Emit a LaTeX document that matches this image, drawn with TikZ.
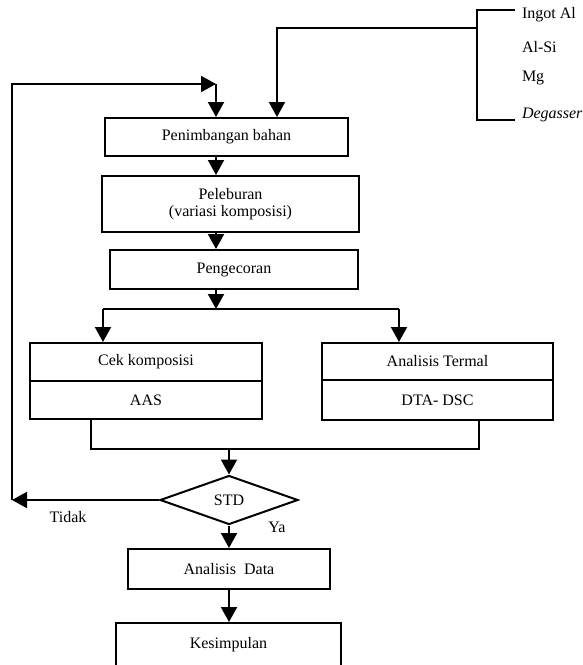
\documentclass[tikz,border=0pt]{standalone}
\usepackage{fontspec}
\setmainfont{Liberation Serif}
\usetikzlibrary{shapes.geometric,arrows.meta}
\begin{document}
\begin{tikzpicture}[x=1pt,y=-1pt,line width=2pt,
    box/.style={draw,rectangle,inner sep=0pt,align=center,font=\fontsize{16}{17}\selectfont},
    lbl/.style={inner sep=0pt,font=\fontsize{16}{17}\selectfont},
    arr/.style={-{Triangle[length=15pt,width=16pt]}}]
  \useasboundingbox (0,0) rectangle (583,665);
  % bahan
  \node[lbl,anchor=west] (ingot) at (521,15) {Ingot Al};
  \node[lbl,anchor=west] (alsi) at (521,47) {Al-Si};
  \node[lbl,anchor=west] (mg) at (521,78) {Mg};
  \node[lbl,anchor=west] (gas) at (521,115) {\textit{Degasser}};
  \coordinate (brT) at (515,10);
  \coordinate (brB) at (515,120);
  \coordinate (brM) at (477,28);
  \coordinate (feed) at (277,28);
  % proses
  \node[box,minimum width=243pt,minimum height=38pt] (weigh) at (226.5,137) {Penimbangan bahan};
  \node[box,minimum width=257pt,minimum height=56pt] (melt) at (230.5,204) {Peleburan\\(variasi komposisi)};
  \node[box,minimum width=248pt,minimum height=39pt] (cast) at (234,269.5) {Pengecoran};
  \node[box,minimum width=232pt,minimum height=38pt] (chkA) at (146,362) {Cek komposisi};
  \node[box,minimum width=232pt,minimum height=38pt] (chkB) at (146,400) {AAS};
  \node[box,minimum width=231pt,minimum height=37pt] (terA) at (437.5,361.5) {Analisis Termal};
  \node[box,minimum width=231pt,minimum height=40pt] (terB) at (437.5,400) {DTA- DSC};
  \node[draw,diamond,aspect=2.8,minimum width=138pt,minimum height=49pt,inner sep=0pt,
    font=\fontsize{16}{17}\selectfont] (std) at (229,500) {STD};
  \node[box,minimum width=202pt,minimum height=40pt] (anal) at (229,569) {Analisis\ \ Data};
  \node[box,minimum width=225pt,minimum height=44pt] (concl) at (228.5,645) {Kesimpulan};
  \node[lbl] (no) at (68,517) {Tidak};
  \node[lbl] (yes) at (277,527) {Ya};
  % titik bantu
  \coordinate (loopB) at (12,500);
  \coordinate (loopT) at (12,84);
  \coordinate (loopC) at (216,84);
  \coordinate (split) at (216,309);
  \coordinate (splitL) at (103,309);
  \coordinate (splitR) at (399,309);
  \coordinate (joinL) at (91,449);
  \coordinate (joinR) at (479,449);
  \coordinate (join) at (229,449);
  % garis
  \draw (brT) -- (brT -| brM) -- (brB -| brM) -- (brB);
  \draw[arr] (brM) -- (feed) -- (weigh.north -| feed);
  \draw[arr] (std.west) -- (loopB);
  \draw[arr] (loopB) -- (loopT) -- (loopC);
  \draw[arr] (loopC) -- (weigh.north -| loopC);
  \draw[arr] (weigh.south -| loopC) -- (melt.north -| loopC);
  \draw[arr] (melt.south -| loopC) -- (cast.north -| loopC);
  \draw[arr] (cast.south -| split) -- (split);
  \draw (splitL) -- (splitR);
  \draw[arr] (splitL) -- (chkA.north -| splitL);
  \draw[arr] (splitR) -- (terA.north -| splitR);
  \draw (chkB.south -| joinL) -- (joinL) -- (joinR) -- (terB.south -| joinR);
  \draw[arr] (join) -- (std.north);
  \draw[arr] (std.south) -- (anal.north);
  \draw[arr] (anal.south) -- (concl.north -| anal.south);
\end{tikzpicture}
\end{document}
